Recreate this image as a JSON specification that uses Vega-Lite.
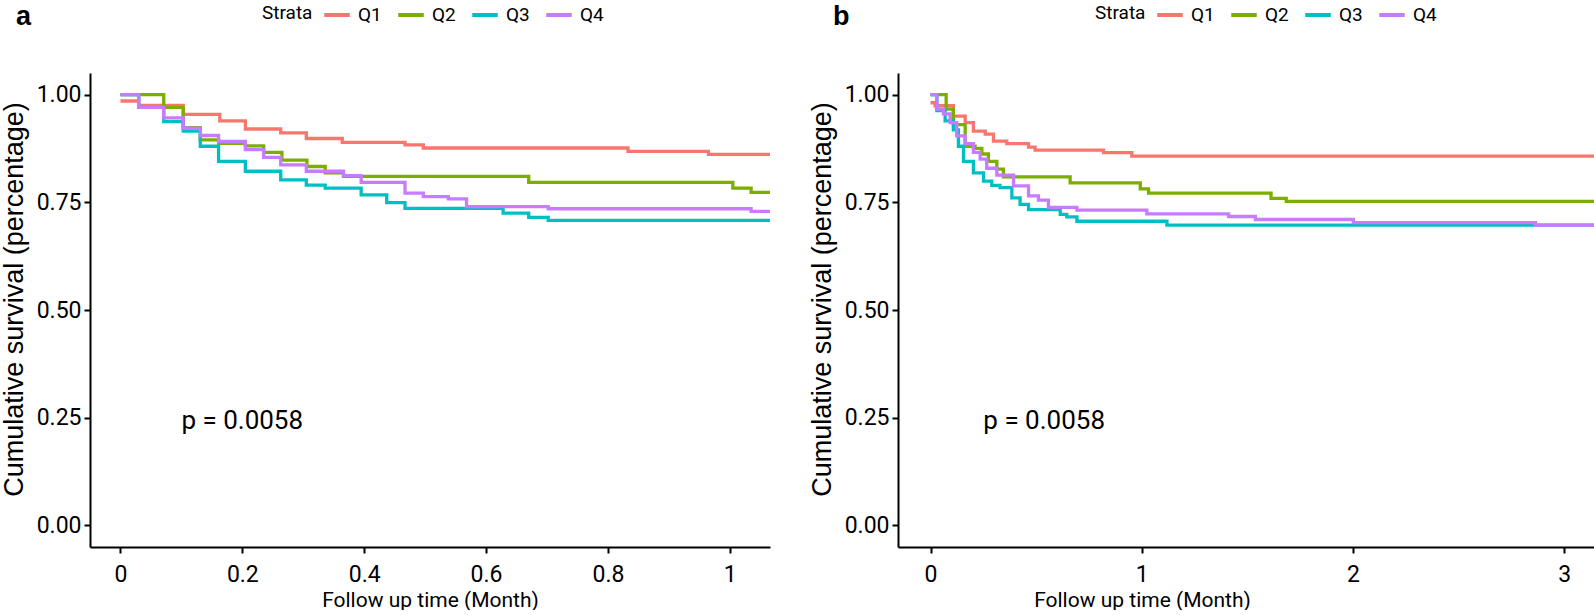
{
  "$schema": "https://vega.github.io/schema/vega-lite/v6.json",
  "background": "white",
  "padding": {"left": 0, "top": 0, "right": 0, "bottom": 0},
  "spacing": 38,
  "config": {
    "view": {"stroke": null},
    "axis": {
      "grid": false,
      "domainColor": "black",
      "domainWidth": 2,
      "tickColor": "black",
      "tickWidth": 2,
      "tickSize": 6,
      "labelColor": "black",
      "titleColor": "black",
      "labelFont": "Roboto",
      "labelFontSize": 23,
      "titleFont": "Roboto",
      "titleFontSize": 21,
      "titleFontWeight": "normal"
    },
    "legend": {
      "orient": "none",
      "direction": "horizontal",
      "titleOrient": "left",
      "titleFont": "Roboto",
      "titleFontSize": 19,
      "titleFontWeight": "normal",
      "titleColor": "black",
      "titlePadding": 9,
      "labelFont": "Roboto",
      "labelFontSize": 19,
      "labelColor": "black",
      "labelOffset": 6,
      "symbolType": "stroke",
      "symbolStrokeWidth": 4,
      "symbolSize": 650,
      "columnPadding": 8,
      "padding": 0
    },
    "title": {"font": "Liberation Sans", "fontSize": 27, "fontWeight": "bold", "color": "black"}
  },
  "resolve": {"legend": {"color": "independent"}, "scale": {"color": "independent"}},
  "hconcat": [
    {
      "width": 680,
      "height": 474,
      "title": {"text": "a", "anchor": "start", "frame": "group", "dx": -74, "offset": -31},
      "layer": [
        {
          "data": {"values": [
            {"strata": "Q1", "t": 0, "s": 0.985},
            {"strata": "Q1", "t": 0.030, "s": 0.975},
            {"strata": "Q1", "t": 0.103, "s": 0.954},
            {"strata": "Q1", "t": 0.163, "s": 0.939},
            {"strata": "Q1", "t": 0.205, "s": 0.920},
            {"strata": "Q1", "t": 0.263, "s": 0.911},
            {"strata": "Q1", "t": 0.305, "s": 0.898},
            {"strata": "Q1", "t": 0.364, "s": 0.889},
            {"strata": "Q1", "t": 0.467, "s": 0.883},
            {"strata": "Q1", "t": 0.497, "s": 0.876},
            {"strata": "Q1", "t": 0.833, "s": 0.868},
            {"strata": "Q1", "t": 0.965, "s": 0.861},
            {"strata": "Q1", "t": 1.07, "s": 0.861},
            {"strata": "Q2", "t": 0, "s": 1.0},
            {"strata": "Q2", "t": 0.071, "s": 0.970},
            {"strata": "Q2", "t": 0.103, "s": 0.923},
            {"strata": "Q2", "t": 0.131, "s": 0.895},
            {"strata": "Q2", "t": 0.161, "s": 0.887},
            {"strata": "Q2", "t": 0.205, "s": 0.881},
            {"strata": "Q2", "t": 0.235, "s": 0.866},
            {"strata": "Q2", "t": 0.265, "s": 0.848},
            {"strata": "Q2", "t": 0.306, "s": 0.833},
            {"strata": "Q2", "t": 0.336, "s": 0.818},
            {"strata": "Q2", "t": 0.366, "s": 0.810},
            {"strata": "Q2", "t": 0.670, "s": 0.796},
            {"strata": "Q2", "t": 1.005, "s": 0.783},
            {"strata": "Q2", "t": 1.035, "s": 0.773},
            {"strata": "Q2", "t": 1.07, "s": 0.773},
            {"strata": "Q3", "t": 0, "s": 1.0},
            {"strata": "Q3", "t": 0.030, "s": 0.970},
            {"strata": "Q3", "t": 0.071, "s": 0.937},
            {"strata": "Q3", "t": 0.103, "s": 0.915},
            {"strata": "Q3", "t": 0.131, "s": 0.880},
            {"strata": "Q3", "t": 0.161, "s": 0.845},
            {"strata": "Q3", "t": 0.205, "s": 0.822},
            {"strata": "Q3", "t": 0.263, "s": 0.802},
            {"strata": "Q3", "t": 0.305, "s": 0.790},
            {"strata": "Q3", "t": 0.336, "s": 0.783},
            {"strata": "Q3", "t": 0.395, "s": 0.767},
            {"strata": "Q3", "t": 0.437, "s": 0.749},
            {"strata": "Q3", "t": 0.467, "s": 0.736},
            {"strata": "Q3", "t": 0.628, "s": 0.725},
            {"strata": "Q3", "t": 0.670, "s": 0.715},
            {"strata": "Q3", "t": 0.702, "s": 0.708},
            {"strata": "Q3", "t": 1.07, "s": 0.708},
            {"strata": "Q4", "t": 0, "s": 1.0},
            {"strata": "Q4", "t": 0.030, "s": 0.970},
            {"strata": "Q4", "t": 0.071, "s": 0.946},
            {"strata": "Q4", "t": 0.103, "s": 0.922},
            {"strata": "Q4", "t": 0.131, "s": 0.905},
            {"strata": "Q4", "t": 0.161, "s": 0.891},
            {"strata": "Q4", "t": 0.205, "s": 0.872},
            {"strata": "Q4", "t": 0.235, "s": 0.854},
            {"strata": "Q4", "t": 0.263, "s": 0.837},
            {"strata": "Q4", "t": 0.305, "s": 0.822},
            {"strata": "Q4", "t": 0.366, "s": 0.812},
            {"strata": "Q4", "t": 0.395, "s": 0.796},
            {"strata": "Q4", "t": 0.467, "s": 0.771},
            {"strata": "Q4", "t": 0.497, "s": 0.763},
            {"strata": "Q4", "t": 0.538, "s": 0.758},
            {"strata": "Q4", "t": 0.568, "s": 0.740},
            {"strata": "Q4", "t": 0.702, "s": 0.735},
            {"strata": "Q4", "t": 1.035, "s": 0.729},
            {"strata": "Q4", "t": 1.07, "s": 0.729}
          ]},
          "mark": {"type": "line", "interpolate": "step-after", "strokeWidth": 3.3, "clip": true},
          "encoding": {
            "x": {"field": "t", "type": "quantitative",
                  "scale": {"domain": [-0.05, 1.066], "nice": false, "zero": false},
                  "axis": {"values": [0, 0.2, 0.4, 0.6, 0.8, 1], "format": "~g", "title": "Follow up time (Month)", "labelPadding": 10, "titlePadding": 3}},
            "y": {"field": "s", "type": "quantitative",
                  "scale": {"domain": [-0.05, 1.05], "nice": false, "zero": false},
                  "axis": {"values": [0, 0.25, 0.5, 0.75, 1], "format": ".2f", "title": "Cumulative survival (percentage)", "titleFont": "Liberation Sans", "titleFontSize": 27, "titleY": 226, "labelPadding": 3, "titlePadding": 8}},
            "color": {"field": "strata", "type": "nominal",
                      "scale": {"domain": ["Q1", "Q2", "Q3", "Q4"], "range": ["#F8766D", "#7CAE00", "#00BFC4", "#C77CFF"]},
                      "legend": {"title": "Strata", "legendX": 172, "legendY": -73}}
          }
        },
        {
          "data": {"values": [{"t": 0.1, "s": 0.224, "label": "p = 0.0058"}]},
          "mark": {"type": "text", "align": "left", "baseline": "alphabetic", "font": "Roboto", "fontSize": 26, "color": "black"},
          "encoding": {
            "x": {"field": "t", "type": "quantitative"},
            "y": {"field": "s", "type": "quantitative"},
            "text": {"field": "label"}
          }
        }
      ]
    },
    {
      "width": 700,
      "height": 474,
      "title": {"text": "b", "anchor": "start", "frame": "group", "dx": -65, "offset": -31},
      "layer": [
        {
          "data": {"values": [
            {"strata": "Q1", "t": 0, "s": 0.981},
            {"strata": "Q1", "t": 0.022, "s": 0.974},
            {"strata": "Q1", "t": 0.108, "s": 0.950},
            {"strata": "Q1", "t": 0.164, "s": 0.935},
            {"strata": "Q1", "t": 0.203, "s": 0.915},
            {"strata": "Q1", "t": 0.259, "s": 0.908},
            {"strata": "Q1", "t": 0.298, "s": 0.892},
            {"strata": "Q1", "t": 0.361, "s": 0.886},
            {"strata": "Q1", "t": 0.464, "s": 0.878},
            {"strata": "Q1", "t": 0.495, "s": 0.871},
            {"strata": "Q1", "t": 0.819, "s": 0.865},
            {"strata": "Q1", "t": 0.953, "s": 0.857},
            {"strata": "Q1", "t": 3.2, "s": 0.857},
            {"strata": "Q2", "t": 0, "s": 1.0},
            {"strata": "Q2", "t": 0.074, "s": 0.966},
            {"strata": "Q2", "t": 0.108, "s": 0.930},
            {"strata": "Q2", "t": 0.164, "s": 0.880},
            {"strata": "Q2", "t": 0.211, "s": 0.875},
            {"strata": "Q2", "t": 0.243, "s": 0.862},
            {"strata": "Q2", "t": 0.274, "s": 0.845},
            {"strata": "Q2", "t": 0.314, "s": 0.827},
            {"strata": "Q2", "t": 0.345, "s": 0.809},
            {"strata": "Q2", "t": 0.661, "s": 0.795},
            {"strata": "Q2", "t": 0.993, "s": 0.781},
            {"strata": "Q2", "t": 1.032, "s": 0.771},
            {"strata": "Q2", "t": 1.612, "s": 0.759},
            {"strata": "Q2", "t": 1.684, "s": 0.752},
            {"strata": "Q2", "t": 3.2, "s": 0.752},
            {"strata": "Q3", "t": 0, "s": 1.0},
            {"strata": "Q3", "t": 0.030, "s": 0.963},
            {"strata": "Q3", "t": 0.069, "s": 0.939},
            {"strata": "Q3", "t": 0.108, "s": 0.918},
            {"strata": "Q3", "t": 0.132, "s": 0.880},
            {"strata": "Q3", "t": 0.156, "s": 0.845},
            {"strata": "Q3", "t": 0.203, "s": 0.818},
            {"strata": "Q3", "t": 0.251, "s": 0.799},
            {"strata": "Q3", "t": 0.290, "s": 0.789},
            {"strata": "Q3", "t": 0.329, "s": 0.784},
            {"strata": "Q3", "t": 0.385, "s": 0.760},
            {"strata": "Q3", "t": 0.424, "s": 0.745},
            {"strata": "Q3", "t": 0.464, "s": 0.733},
            {"strata": "Q3", "t": 0.614, "s": 0.722},
            {"strata": "Q3", "t": 0.645, "s": 0.716},
            {"strata": "Q3", "t": 0.693, "s": 0.706},
            {"strata": "Q3", "t": 1.119, "s": 0.697},
            {"strata": "Q3", "t": 3.2, "s": 0.697},
            {"strata": "Q4", "t": 0, "s": 1.0},
            {"strata": "Q4", "t": 0.030, "s": 0.966},
            {"strata": "Q4", "t": 0.061, "s": 0.955},
            {"strata": "Q4", "t": 0.093, "s": 0.935},
            {"strata": "Q4", "t": 0.124, "s": 0.904},
            {"strata": "Q4", "t": 0.164, "s": 0.886},
            {"strata": "Q4", "t": 0.203, "s": 0.866},
            {"strata": "Q4", "t": 0.235, "s": 0.850},
            {"strata": "Q4", "t": 0.266, "s": 0.829},
            {"strata": "Q4", "t": 0.314, "s": 0.813},
            {"strata": "Q4", "t": 0.393, "s": 0.788},
            {"strata": "Q4", "t": 0.464, "s": 0.765},
            {"strata": "Q4", "t": 0.511, "s": 0.755},
            {"strata": "Q4", "t": 0.558, "s": 0.738},
            {"strata": "Q4", "t": 0.693, "s": 0.732},
            {"strata": "Q4", "t": 1.024, "s": 0.723},
            {"strata": "Q4", "t": 1.411, "s": 0.717},
            {"strata": "Q4", "t": 1.538, "s": 0.710},
            {"strata": "Q4", "t": 2.002, "s": 0.703},
            {"strata": "Q4", "t": 2.864, "s": 0.697},
            {"strata": "Q4", "t": 3.2, "s": 0.697}
          ]},
          "mark": {"type": "line", "interpolate": "step-after", "strokeWidth": 3.3, "clip": true},
          "encoding": {
            "x": {"field": "t", "type": "quantitative",
                  "scale": {"domain": [-0.154, 3.16], "nice": false, "zero": false},
                  "axis": {"values": [0, 1, 2, 3], "format": "~g", "title": "Follow up time (Month)", "titleX": 244, "labelPadding": 10, "titlePadding": 3}},
            "y": {"field": "s", "type": "quantitative",
                  "scale": {"domain": [-0.05, 1.05], "nice": false, "zero": false},
                  "axis": {"values": [0, 0.25, 0.5, 0.75, 1], "format": ".2f", "title": "Cumulative survival (percentage)", "titleFont": "Liberation Sans", "titleFontSize": 27, "titleY": 226, "labelPadding": 3, "titlePadding": 8}},
            "color": {"field": "strata", "type": "nominal",
                      "scale": {"domain": ["Q1", "Q2", "Q3", "Q4"], "range": ["#F8766D", "#7CAE00", "#00BFC4", "#C77CFF"]},
                      "legend": {"title": "Strata", "legendX": 197, "legendY": -73}}
          }
        },
        {
          "data": {"values": [{"t": 0.25, "s": 0.224, "label": "p = 0.0058"}]},
          "mark": {"type": "text", "align": "left", "baseline": "alphabetic", "font": "Roboto", "fontSize": 26, "color": "black"},
          "encoding": {
            "x": {"field": "t", "type": "quantitative"},
            "y": {"field": "s", "type": "quantitative"},
            "text": {"field": "label"}
          }
        }
      ]
    }
  ]
}
